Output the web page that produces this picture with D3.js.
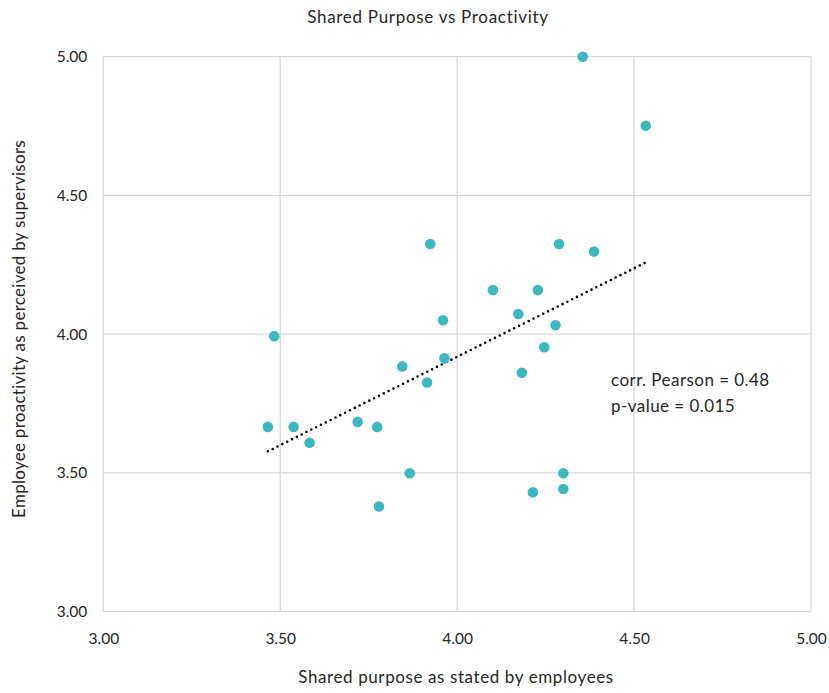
<!DOCTYPE html>
<html>
<head>
<meta charset="utf-8">
<script src="https://cdn.jsdelivr.net/npm/d3@7"></script>
<style>
  html, body { margin: 0; padding: 0; background: #fff; }
  text { font-family: Lato, "Open Sans", sans-serif; fill: #262626; }
</style>
</head>
<body>
<svg id="chart" width="829" height="693"></svg>
<script>
const sharedPurpose = [3.924, 4.288, 4.387, 4.101, 4.228, 4.173, 3.960, 4.278, 3.483, 4.246,
  3.964, 3.845, 4.183, 3.915, 3.465, 3.538, 3.719, 3.774, 3.583, 3.866,
  4.300, 4.300, 4.214, 3.779, 4.355, 4.533];
const proactivity = [4.325, 4.325, 4.298, 4.159, 4.159, 4.073, 4.050, 4.032, 3.993, 3.953,
  3.913, 3.884, 3.861, 3.826, 3.666, 3.666, 3.684, 3.666, 3.609, 3.499,
  3.499, 3.442, 3.430, 3.379, 5.000, 4.751];
const xTicks = [3.0, 3.5, 4.0, 4.5, 5.0];
const yTicks = [3.0, 3.5, 4.0, 4.5, 5.0];
const title = "Shared Purpose vs Proactivity";
const xTitle = "Shared purpose as stated by employees";
const yTitle = "Employee proactivity as perceived by supervisors";
const annotation = ["corr. Pearson = 0.48", "p-value = 0.015"];

const svg = d3.select("#chart");
const pL = 103.3, pR = 811, pT = 56.7, pB = 611.7;
const x = d3.scaleLinear().domain([3, 5]).range([pL, pR]);
const y = d3.scaleLinear().domain([3, 5]).range([pB, pT]);
const grid = "#d9d9d9";

// gridlines
svg.append("g").selectAll("line").data(xTicks).join("line")
  .attr("x1", d => x(d)).attr("x2", d => x(d))
  .attr("y1", pT).attr("y2", pB)
  .attr("stroke", grid).attr("stroke-width", 1.3);
svg.append("g").selectAll("line").data(yTicks).join("line")
  .attr("x1", pL).attr("x2", pR)
  .attr("y1", d => y(d)).attr("y2", d => y(d))
  .attr("stroke", grid).attr("stroke-width", 1.3);

// axes labels via d3 axes
const xAxis = svg.append("g").attr("transform", `translate(0,${pB})`)
  .call(d3.axisBottom(x).tickValues(xTicks).tickFormat(d3.format(".2f")).tickSize(0).tickPadding(21));
xAxis.select(".domain").remove();
xAxis.selectAll("text").style("font-size", "15.5px").attr("fill", "#262626")
  .style("font-family", "Lato, 'Open Sans', sans-serif");

const yAxis = svg.append("g").attr("transform", `translate(${pL},0)`)
  .call(d3.axisLeft(y).tickValues(yTicks).tickFormat(d3.format(".2f")).tickSize(0).tickPadding(16));
yAxis.select(".domain").remove();
yAxis.selectAll("text").style("font-size", "15.5px").attr("fill", "#262626")
  .style("font-family", "Lato, 'Open Sans', sans-serif");

// trendline (least squares from data)
const n = sharedPurpose.length;
const mx = d3.mean(sharedPurpose), my = d3.mean(proactivity);
let sxy = 0, sxx = 0;
for (let i = 0; i < n; i++) {
  sxy += (sharedPurpose[i] - mx) * (proactivity[i] - my);
  sxx += (sharedPurpose[i] - mx) ** 2;
}
const slope = sxy / sxx, icpt = my - slope * mx;
const [xmin, xmax] = d3.extent(sharedPurpose);
svg.append("line")
  .attr("x1", x(xmin)).attr("y1", y(icpt + slope * xmin))
  .attr("x2", x(xmax)).attr("y2", y(icpt + slope * xmax))
  .attr("stroke", "#000").attr("stroke-width", 2.6)
  .attr("stroke-dasharray", "0 5.4").attr("stroke-linecap", "round");

// points
const pts = sharedPurpose.map((v, i) => ({ x: v, y: proactivity[i] }));
svg.append("g").selectAll("circle").data(pts).join("circle")
  .attr("cx", d => x(d.x)).attr("cy", d => y(d.y)).attr("r", 5.3)
  .attr("fill", "#3bb9c3");

// title
svg.append("text").attr("x", 428).attr("y", 23).attr("text-anchor", "middle")
  .style("font-size", "17px").style("letter-spacing", "0.7px").text(title);
// x title
svg.append("text").attr("x", 456).attr("y", 683).attr("text-anchor", "middle")
  .style("font-size", "17px").style("letter-spacing", "0.6px").text(xTitle);
// y title
svg.append("text").attr("transform", `translate(25,329) rotate(-90)`)
  .attr("text-anchor", "middle").style("font-size", "17px").style("letter-spacing", "0.28px").text(yTitle);
// annotation
svg.append("g").selectAll("text").data(annotation).join("text")
  .attr("x", 611).attr("y", (d, i) => 386 + i * 25.5)
  .style("font-size", "17px").style("letter-spacing", "0.45px").text(d => d);
</script>
</body>
</html>
